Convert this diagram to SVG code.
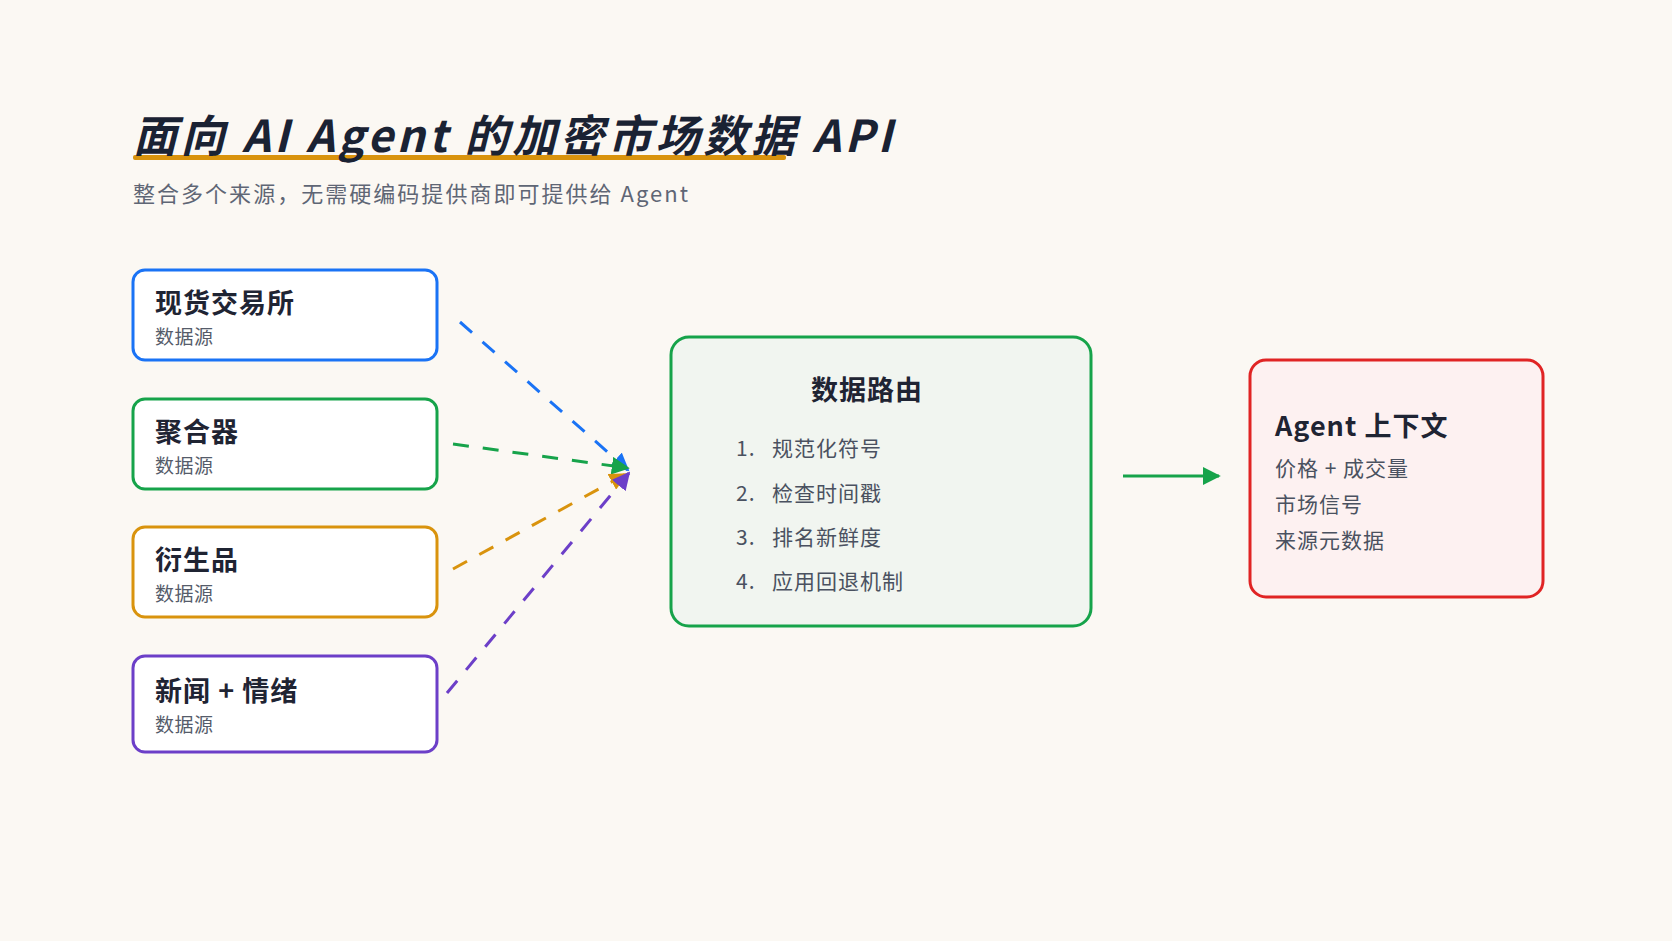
<svg xmlns="http://www.w3.org/2000/svg" width="1672" height="941" viewBox="0 0 1672 941">
<style>
text{font-family:"Noto Sans CJK SC","Noto Sans",sans-serif}
.t{font-size:27px;font-weight:700;fill:#1f2433;letter-spacing:1px}
.s{font-size:19px;fill:#555c6a;letter-spacing:0.5px}
.li{font-size:21px;fill:#4a5160;letter-spacing:1px}
.box{fill:#fff;stroke-width:3}
.d{fill:none;stroke-width:3;stroke-dasharray:16 14}
</style>
<defs>
<marker id="ah" viewBox="0 0 10 10" refX="9" refY="5" markerWidth="6" markerHeight="6" orient="auto"><path d="M0,0L10,5L0,10z" fill="context-stroke"/></marker>
<marker id="ag" viewBox="0 0 10 10" refX="9" refY="5" markerWidth="6" markerHeight="6" orient="auto"><path d="M0,0L10,5L0,10z" fill="#16a34a"/></marker>
</defs>
<rect width="1672" height="941" fill="#fbf8f3"/>
<g id="title">
<rect x="133" y="155" width="653" height="5" rx="2" fill="#d9930d"/>
<text x="133" y="152" font-size="44" font-weight="700" font-style="italic" fill="#1a2233" textLength="759" lengthAdjust="spacing">面向 AI Agent 的加密市场数据 API</text>
<text x="133" y="202" font-size="22" fill="#5f6675" textLength="555" lengthAdjust="spacing">整合多个来源，无需硬编码提供商即可提供给 Agent</text>
</g>
<g id="connectors">
<line class="d" x1="460" y1="322" x2="628" y2="470" stroke="#1a73f5" marker-end="url(#ah)"/>
<line class="d" x1="453" y1="444" x2="628" y2="468" stroke="#16a34a" marker-end="url(#ah)"/>
<line class="d" x1="453" y1="569" x2="626" y2="474" stroke="#d9930d" marker-end="url(#ah)"/>
<line class="d" x1="447" y1="693" x2="629" y2="473" stroke="#6c3fc8" marker-end="url(#ah)"/>
<line x1="1123" y1="476" x2="1219" y2="476" stroke="#16a34a" stroke-width="3" marker-end="url(#ag)"/>
</g>
<g id="n1"><rect class="box" x="133" y="270" width="304" height="90" rx="12" stroke="#1a73f5"/><text class="t" x="155" y="313">现货交易所</text><text class="s" x="155" y="344">数据源</text></g>
<g id="n2"><rect class="box" x="133" y="399" width="304" height="90" rx="12" stroke="#16a34a"/><text class="t" x="155" y="442">聚合器</text><text class="s" x="155" y="473">数据源</text></g>
<g id="n3"><rect class="box" x="133" y="527" width="304" height="90" rx="12" stroke="#d9930d"/><text class="t" x="155" y="570">衍生品</text><text class="s" x="155" y="601">数据源</text></g>
<g id="n4"><rect class="box" x="133" y="656" width="304" height="96" rx="12" stroke="#6c3fc8"/><text class="t" x="155" y="701">新闻 + 情绪</text><text class="s" x="155" y="732">数据源</text></g>
<g id="router"><rect x="671" y="337" width="420" height="289" rx="18" fill="#f1f5f0" stroke="#16a34a" stroke-width="3"/>
<text class="t" x="867" y="400" text-anchor="middle">数据路由</text>
<text class="li" x="736" y="456">1.</text><text class="li" x="772" y="456">规范化符号</text>
<text class="li" x="736" y="501">2.</text><text class="li" x="772" y="501">检查时间戳</text>
<text class="li" x="736" y="545">3.</text><text class="li" x="772" y="545">排名新鲜度</text>
<text class="li" x="736" y="589">4.</text><text class="li" x="772" y="589">应用回退机制</text></g>
<g id="ctx"><rect x="1250" y="360" width="293" height="237" rx="16" fill="#fdf1f1" stroke="#e02424" stroke-width="3"/>
<text class="t" x="1275" y="436" font-size="29">Agent 上下文</text>
<text class="li" x="1275" y="476">价格 + 成交量</text>
<text class="li" x="1275" y="512">市场信号</text>
<text class="li" x="1275" y="548">来源元数据</text></g>
</svg>
